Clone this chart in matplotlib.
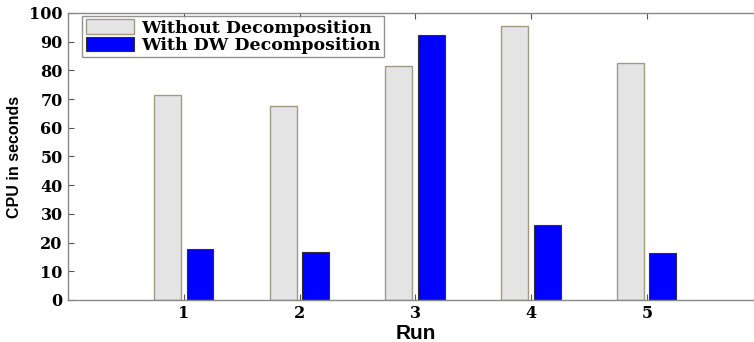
import numpy as np
import matplotlib
matplotlib.use("Agg")
import matplotlib.pyplot as plt

# Data
runs = [1, 2, 3, 4, 5]
without_decomp = [71.5, 67.6, 81.7, 95.6, 82.7]
with_dw_decomp = [17.7, 16.6, 92.3, 26.2, 16.3]
series_labels = ["Without Decomposition", "With DW Decomposition"]

fig = plt.figure(figsize=(7.54, 3.42), dpi=100)
# axes runs slightly past the right edge of the picture, as in the original
ax = fig.add_axes([0.0905, 0.123, 0.921, 0.839])

x = np.array(runs, dtype=float)
width = 0.232
ax.bar(x - 0.143, without_decomp, width, color="#e4e4e4", edgecolor="#a39a86",
       linewidth=1.0, label=series_labels[0], zorder=2)
ax.bar(x + 0.138, with_dw_decomp, width, color="#0000ff", edgecolor="#303030",
       linewidth=0.8, label=series_labels[1], zorder=2)

ax.set_xlim(0, 6)
ax.set_ylim(0, 100)
ax.set_xticks(runs)
ax.set_yticks(np.arange(0, 101, 10))

tick_font = {"family": "DejaVu Serif", "size": 11.5, "weight": "bold"}
ax.set_xticklabels([str(r) for r in runs], fontdict=tick_font)
ax.set_yticklabels([str(v) for v in range(0, 101, 10)], fontdict=tick_font)

ax.tick_params(direction="in", length=4, color="#555555", top=True, right=True,
               width=0.8, pad=4)
for s in ax.spines.values():
    s.set_color("#888888")
    s.set_linewidth(1.0)

ax.set_ylabel("CPU in seconds", family="Liberation Sans", fontsize=11.5,
              fontweight="bold")
ax.yaxis.set_label_coords(-0.066, 0.5)
ax.set_xlabel("Run", family="Liberation Sans", fontsize=15, fontweight="bold")
ax.xaxis.set_label_coords(0.5, -0.083)

leg = ax.legend(loc="upper left", bbox_to_anchor=(0.02, 0.99),
                prop={"family": "DejaVu Serif", "size": 12.5, "weight": "bold"},
                frameon=True, fancybox=False, handlelength=2.8, handleheight=0.9,
                borderpad=0.2, labelspacing=0.0, handletextpad=0.4,
                borderaxespad=0)
leg.get_frame().set_edgecolor("#777777")
leg.get_frame().set_linewidth(1.0)

fig.savefig("out.png", dpi=100)
